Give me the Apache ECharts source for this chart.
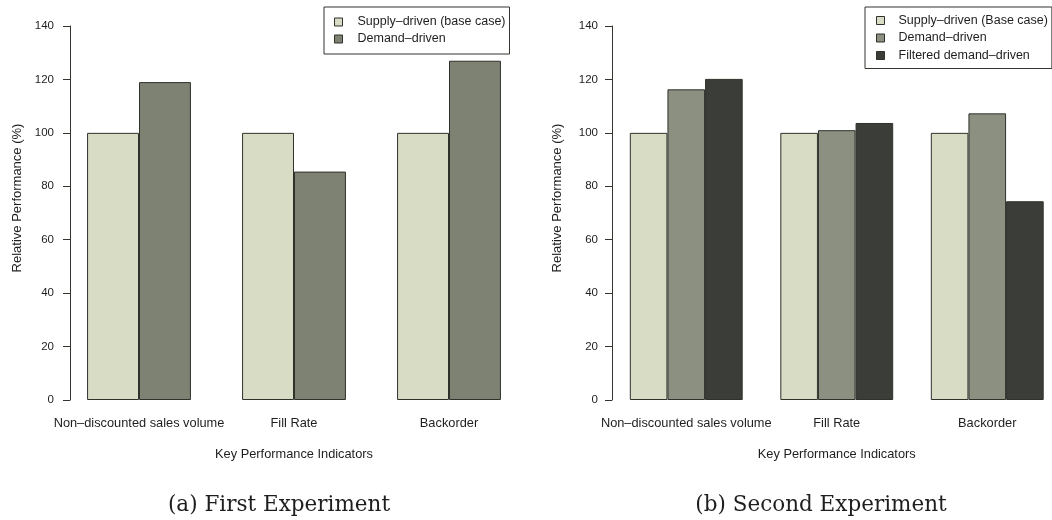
<!DOCTYPE html>
<html>
<head>
<meta charset="utf-8">
<title>Relative Performance</title>
<script src="https://cdn.jsdelivr.net/npm/echarts@6/dist/echarts.min.js"></script>
<style>
    html, body {
        margin: 0;
        padding: 0;
        background: #ffffff;
    }

    #main {
        width: 1052px;
        height: 520px;
    }
</style>
</head>
<body>
<div id="main"></div>
<script>
    // categories and values
    var categories = ['Non–discounted sales volume', 'Fill Rate', 'Backorder'];

    var supplyFirst = [100, 100, 100];
    var demandFirst = [119, 85.5, 127];

    var supplySecond = [100, 100, 100];
    var demandSecond = [116.3, 101, 107.3];
    var filteredSecond = [120.2, 103.7, 74.4];

    var yMin = 0, yMax = 140, yStep = 20;

    var cLight = '#d9dcc4';
    var cDemandA = '#7e8272';
    var cDemandB = '#8b9080';
    var cFiltered = '#3b3d39';
    var cEdge = '#2f312b';
    var cText = '#1e1e1e';
    var font = '"Liberation Sans", Arial, sans-serif';

    function xAxis(idx) {
        return {
            type: 'category',
            gridIndex: idx,
            data: categories,
            axisLine: {show: false},
            axisTick: {show: false},
            axisLabel: {fontSize: 12.8, margin: 17, color: cText, fontFamily: font, interval: 0},
            name: 'Key Performance Indicators',
            nameLocation: 'middle',
            nameGap: 48,
            nameTextStyle: {fontSize: 12.8, color: cText, fontFamily: font}
        };
    }

    function yAxis(idx, offset, margin, gap) {
        return {
            type: 'value',
            gridIndex: idx,
            min: yMin,
            max: yMax,
            interval: yStep,
            offset: offset,
            axisLine: {show: true, lineStyle: {color: '#33352f', width: 1}},
            axisTick: {show: true, length: 7, lineStyle: {color: '#33352f'}},
            axisLabel: {fontSize: 11.5, margin: margin, color: cText, fontFamily: font},
            splitLine: {show: false},
            name: 'Relative Performance (%)',
            nameLocation: 'middle',
            nameGap: gap,
            nameTextStyle: {fontSize: 13, color: cText, fontFamily: font, padding: [0, 0, 0, 30]}
        };
    }

    function bar(name, data, color, idx, catGap) {
        var s = {
            name: name,
            type: 'bar',
            xAxisIndex: idx,
            yAxisIndex: idx,
            data: data,
            barGap: '0%',
            itemStyle: {color: color, borderColor: cEdge, borderWidth: 1},
            emphasis: {disabled: true}
        };
        if (catGap) s.barCategoryGap = catGap;
        return s;
    }

    function legendItem(name, color) {
        return {name: name, icon: 'rect', itemStyle: {color: color, borderColor: cEdge, borderWidth: 1}};
    }

    var myChart = echarts.init(document.getElementById('main'), null, {renderer: 'canvas'});

    var option = {
        backgroundColor: '#ffffff',
        animation: false,
        grid: [
            {left: 61.5, top: 26, width: 465, height: 374, outerBoundsMode: 'none'},
            {left: 611, top: 26, width: 451.5, height: 374, outerBoundsMode: 'none'}
        ],
        xAxis: [xAxis(0), xAxis(1)],
        yAxis: [yAxis(0, -8.5, 16, 46), yAxis(1, -1, 14, 48)],
        legend: [
            {
                orient: 'vertical',
                left: 324,
                top: 7,
                padding: [8.5, 4, 8.5, 10],
                itemWidth: 8,
                itemHeight: 8,
                itemGap: 4,
                borderColor: '#33352f',
                borderWidth: 1,
                selectedMode: false,
                textStyle: {fontSize: 12.5, lineHeight: 12, color: cText, fontFamily: font, padding: [0, 0, 0, 10]},
                data: [
                    legendItem('Supply–driven (base case)', cLight),
                    legendItem('Demand–driven', cDemandA)
                ]
            },
            {
                orient: 'vertical',
                left: 865,
                top: 7,
                padding: [7, 4, 6.5, 11],
                itemWidth: 8,
                itemHeight: 8,
                itemGap: 4.5,
                borderColor: '#33352f',
                borderWidth: 1,
                selectedMode: false,
                textStyle: {fontSize: 12.5, lineHeight: 12, color: cText, fontFamily: font, padding: [0, 0, 0, 9]},
                data: [
                    legendItem('Supply–driven (Base case)', cLight),
                    legendItem('Demand–driven', cDemandB),
                    legendItem('Filtered demand–driven', cFiltered)
                ]
            }
        ],
        series: [
            bar('Supply–driven (base case)', supplyFirst, cLight, 0, '33%'),
            bar('Demand–driven', demandFirst, cDemandA, 0),
            bar('Supply–driven (Base case)', supplySecond, cLight, 1, '25%'),
            bar('Demand–driven', demandSecond, cDemandB, 1),
            bar('Filtered demand–driven', filteredSecond, cFiltered, 1)
        ],
        graphic: [
            {
                type: 'text', x: 279, y: 505,
                style: {text: '(a) First Experiment', fontSize: 21.5, fontFamily: '"DejaVu Serif", serif',
                    fill: '#1e1e1e', align: 'center', verticalAlign: 'middle'}
            },
            {
                type: 'text', x: 821, y: 505,
                style: {text: '(b) Second Experiment', fontSize: 21.5, fontFamily: '"DejaVu Serif", serif',
                    fill: '#1e1e1e', align: 'center', verticalAlign: 'middle'}
            }
        ]
    };

    myChart.setOption(option);
</script>
</body>
</html>
